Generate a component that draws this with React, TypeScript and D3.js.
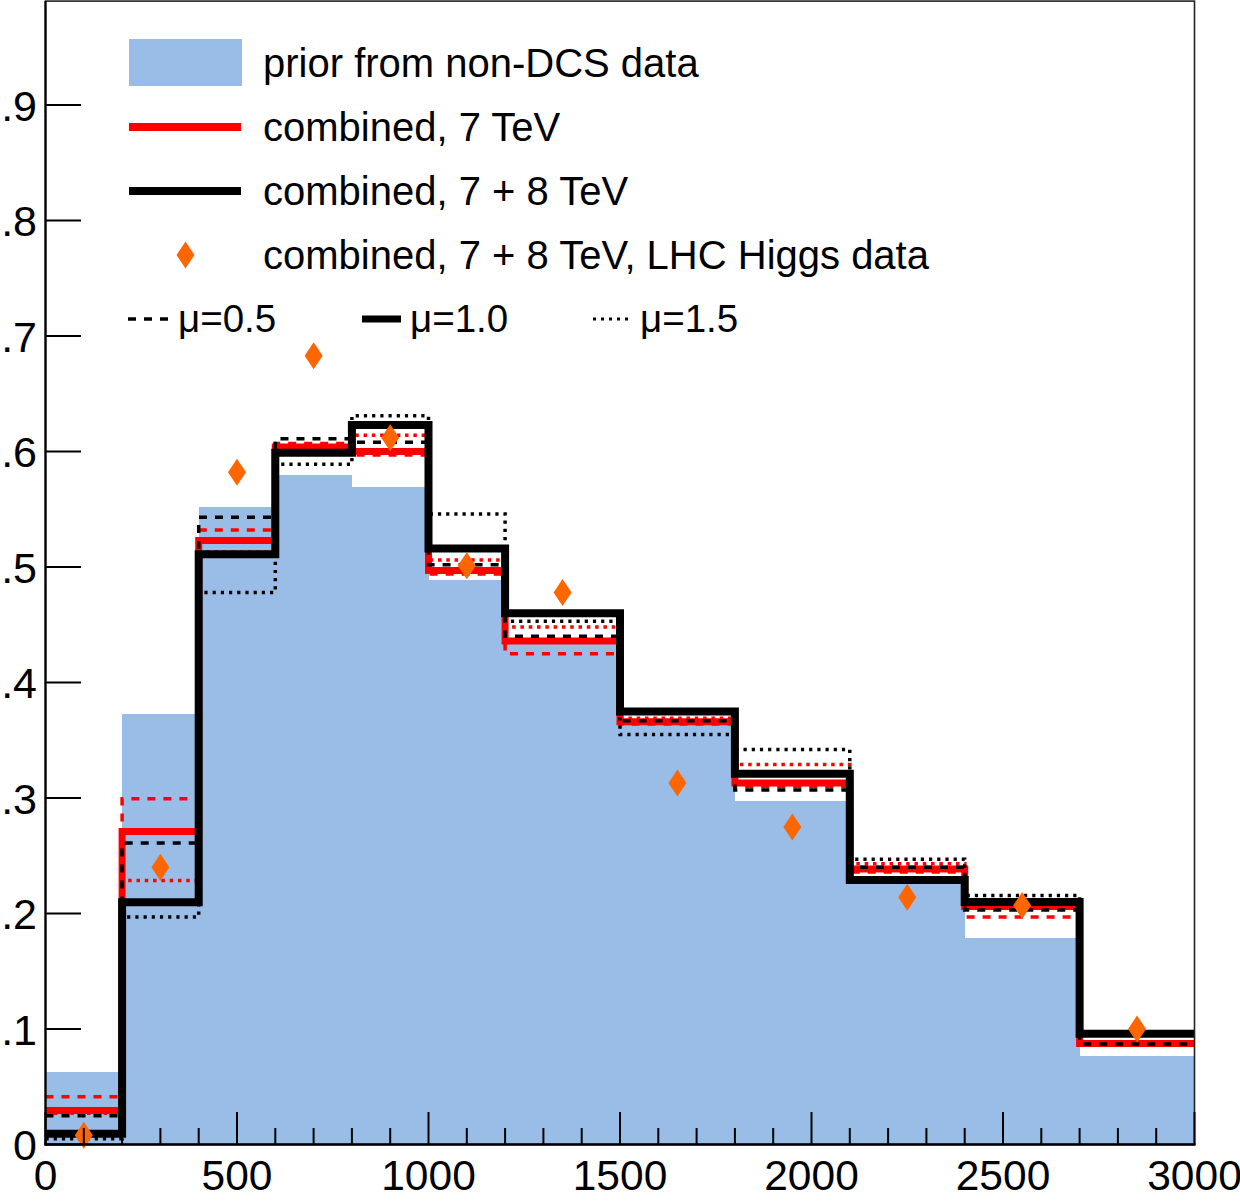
import { useEffect, useRef } from "react";
import * as d3 from "d3";

// bin edges of the m_H+ style histogram (GeV)
const edges = [0, 200, 400, 600, 800, 1000, 1200, 1500, 1800, 2100, 2400, 2700, 3000];

// prior from non-DCS data (filled)
const prior = [0.063, 0.373, 0.552, 0.58, 0.569, 0.489, 0.433, 0.365, 0.297, 0.226, 0.179, 0.077];

// combined, 7 TeV (red)
const red05 = [0.0413, 0.2994, 0.532, 0.607, 0.597, 0.494, 0.425, 0.364, 0.31, 0.236, 0.197, 0.0875];
const red10 = [0.0295, 0.2711, 0.523, 0.604, 0.6, 0.497, 0.436, 0.366, 0.313, 0.2385, 0.206, 0.0874];
const red15 = [0.027, 0.2285, 0.513, 0.602, 0.614, 0.506, 0.448, 0.369, 0.329, 0.243, 0.211, 0.088];

// combined, 7 + 8 TeV (black)
const blk05 = [0.0248, 0.261, 0.543, 0.611, 0.608, 0.502, 0.44, 0.367, 0.307, 0.24, 0.203, 0.087];
const blk10 = [0.0093, 0.2097, 0.511, 0.599, 0.623, 0.516, 0.46, 0.375, 0.321, 0.229, 0.21, 0.0958];
const blk15 = [0.005, 0.197, 0.478, 0.589, 0.631, 0.546, 0.453, 0.355, 0.342, 0.247, 0.2157, 0.097];

// combined, 7 + 8 TeV, LHC Higgs data (diamonds at bin centres)
const higgs = [0.008, 0.24, 0.582, 0.683, 0.612, 0.501, 0.478, 0.313, 0.275, 0.214, 0.207, 0.1];

const xMajor = [0, 500, 1000, 1500, 2000, 2500, 3000];
const xMajorLabels = ["0", "500", "1000", "1500", "2000", "2500", "3000"];
const xMinor = d3.range(0, 3001, 100);
const yTicks = [0, 0.1, 0.2, 0.3, 0.4, 0.5, 0.6, 0.7, 0.8, 0.9];
const yTickLabels = ["0", "0.1", "0.2", "0.3", "0.4", "0.5", "0.6", "0.7", "0.8", "0.9"];

const legendRows = [
  "prior from non-DCS data",
  "combined, 7 TeV",
  "combined, 7 + 8 TeV",
  "combined, 7 + 8 TeV, LHC Higgs data",
];
const muLabels = ["\u03bc=0.5", "\u03bc=1.0", "\u03bc=1.5"];

const BLUE = "#99bde6";
const ORANGE = "#ff6600";
const FONT = "'Liberation Sans', Arial, Helvetica, sans-serif";

export default function App() {
  const ref = useRef<SVGSVGElement>(null);

  useEffect(() => {
    const svg = d3.select(ref.current);
    svg.selectAll("*").remove();

    const x = d3.scaleLinear().domain([0, 3000]).range([45.5, 1194.5]);
    const y = d3.scaleLinear().domain([0, 0.99]).range([1144.5, 1.1]);

    // prior fill
    svg
      .append("g")
      .selectAll("rect")
      .data(prior)
      .join("rect")
      .attr("x", (d, i) => x(edges[i]))
      .attr("width", (d, i) => x(edges[i + 1]) - x(edges[i]))
      .attr("y", (d) => y(d))
      .attr("height", (d) => y(0) - y(d))
      .attr("fill", BLUE)
      .attr("shape-rendering", "crispEdges");

    const stepPath = (vals: number[]) => {
      const pts: [number, number][] = [];
      vals.forEach((v, i) => {
        pts.push([edges[i], v], [edges[i + 1], v]);
      });
      return d3
        .line<[number, number]>()
        .x((d) => x(d[0]))
        .y((d) => y(d[1]))(pts);
    };

    const series = [
      { vals: red10, color: "#ff0000", width: 7, dash: "" },
      { vals: red05, color: "#ff0000", width: 3.5, dash: "8,8" },
      { vals: red15, color: "#ff0000", width: 3.5, dash: "3.5,4.8" },
      { vals: blk05, color: "#000000", width: 3.5, dash: "8,8" },
      { vals: blk15, color: "#000000", width: 3.5, dash: "3.2,5" },
      { vals: blk10, color: "#000000", width: 8, dash: "" },
    ];

    svg
      .append("g")
      .selectAll("path")
      .data(series)
      .join("path")
      .attr("d", (s) => stepPath(s.vals))
      .attr("fill", "none")
      .attr("stroke", (s) => s.color)
      .attr("stroke-width", (s) => s.width)
      .attr("stroke-dasharray", (s) => s.dash || null)
      .attr("stroke-linejoin", "miter")
      .attr("stroke-linecap", "butt");

    // diamonds
    const diamond = "M0,-13.5 L9,0 L0,13.5 L-9,0 Z";
    svg
      .append("g")
      .selectAll("path")
      .data(higgs)
      .join("path")
      .attr("d", diamond)
      .attr(
        "transform",
        (d, i) => `translate(${x((edges[i] + edges[i + 1]) / 2)},${y(d)})`
      )
      .attr("fill", ORANGE);

    // frame
    svg
      .append("rect")
      .attr("x", 45.5)
      .attr("y", 1.1)
      .attr("width", 1149)
      .attr("height", 1143.4)
      .attr("fill", "none")
      .attr("stroke", "#222")
      .attr("stroke-width", 1.6);

    // axes
    svg
      .append("line")
      .attr("x1", 45.5)
      .attr("x2", 45.5)
      .attr("y1", 1.1)
      .attr("y2", 1145.5)
      .attr("stroke", "#000")
      .attr("stroke-width", 2.2);
    svg
      .append("line")
      .attr("x1", 44.5)
      .attr("x2", 1195.5)
      .attr("y1", 1144.5)
      .attr("y2", 1144.5)
      .attr("stroke", "#000")
      .attr("stroke-width", 2.4);

    svg
      .append("g")
      .selectAll("line")
      .data(xMinor)
      .join("line")
      .attr("x1", (d) => x(d))
      .attr("x2", (d) => x(d))
      .attr("y1", 1144.5)
      .attr("y2", (d) => (d % 500 === 0 ? 1112 : 1128))
      .attr("stroke", "#000")
      .attr("stroke-width", 2);

    svg
      .append("g")
      .selectAll("line")
      .data(yTicks)
      .join("line")
      .attr("x1", 45.5)
      .attr("x2", 81)
      .attr("y1", (d) => y(d))
      .attr("y2", (d) => y(d))
      .attr("stroke", "#000")
      .attr("stroke-width", 2);

    svg
      .append("g")
      .selectAll("text")
      .data(xMajor)
      .join("text")
      .attr("x", (d) => x(d))
      .attr("y", 1190)
      .attr("text-anchor", "middle")
      .attr("font-family", FONT)
      .attr("font-size", 42.5)
      .attr("fill", "#000")
      .text((d, i) => xMajorLabels[i]);

    svg
      .append("g")
      .selectAll("text")
      .data(yTicks)
      .join("text")
      .attr("x", 37)
      .attr("y", (d) => y(d) + 15.5)
      .attr("text-anchor", "end")
      .attr("font-family", FONT)
      .attr("font-size", 43)
      .attr("fill", "#000")
      .text((d, i) => yTickLabels[i]);

    // legend
    const leg = svg.append("g").attr("font-family", FONT).attr("fill", "#000");
    const rowY = [63, 127, 191, 255];
    leg
      .append("rect")
      .attr("x", 129)
      .attr("y", 39)
      .attr("width", 113)
      .attr("height", 47)
      .attr("fill", BLUE);
    leg
      .append("line")
      .attr("x1", 129)
      .attr("x2", 241)
      .attr("y1", rowY[1])
      .attr("y2", rowY[1])
      .attr("stroke", "#ff0000")
      .attr("stroke-width", 8);
    leg
      .append("line")
      .attr("x1", 129)
      .attr("x2", 241)
      .attr("y1", rowY[2])
      .attr("y2", rowY[2])
      .attr("stroke", "#000")
      .attr("stroke-width", 8);
    leg
      .append("path")
      .attr("d", diamond)
      .attr("transform", `translate(185.5,${rowY[3]})`)
      .attr("fill", ORANGE);
    leg
      .selectAll("text.row")
      .data(legendRows)
      .join("text")
      .attr("class", "row")
      .attr("x", 263)
      .attr("y", (d, i) => rowY[i] + 14)
      .attr("font-size", 40)
      .text((d) => d);

    const muY = 319;
    const muItems = [
      { x1: 128, x2: 168, tx: 178, w: 3.5, dash: "8,8" },
      { x1: 362, x2: 401, tx: 410, w: 7, dash: "" },
      { x1: 593, x2: 633, tx: 640, w: 3, dash: "3,5" },
    ];
    leg
      .selectAll("line.mu")
      .data(muItems)
      .join("line")
      .attr("class", "mu")
      .attr("x1", (d) => d.x1)
      .attr("x2", (d) => d.x2)
      .attr("y1", muY)
      .attr("y2", muY)
      .attr("stroke", "#000")
      .attr("stroke-width", (d) => d.w)
      .attr("stroke-dasharray", (d) => d.dash || null);
    leg
      .selectAll("text.mu")
      .data(muItems)
      .join("text")
      .attr("class", "mu")
      .attr("x", (d) => d.tx)
      .attr("y", muY + 13)
      .attr("font-size", 38.5)
      .text((d, i) => muLabels[i]);
  }, []);

  return (
    <svg
      ref={ref}
      width={1240}
      height={1204}
      style={{ position: "absolute", left: 0, top: 0, background: "#fff" }}
    />
  );
}
